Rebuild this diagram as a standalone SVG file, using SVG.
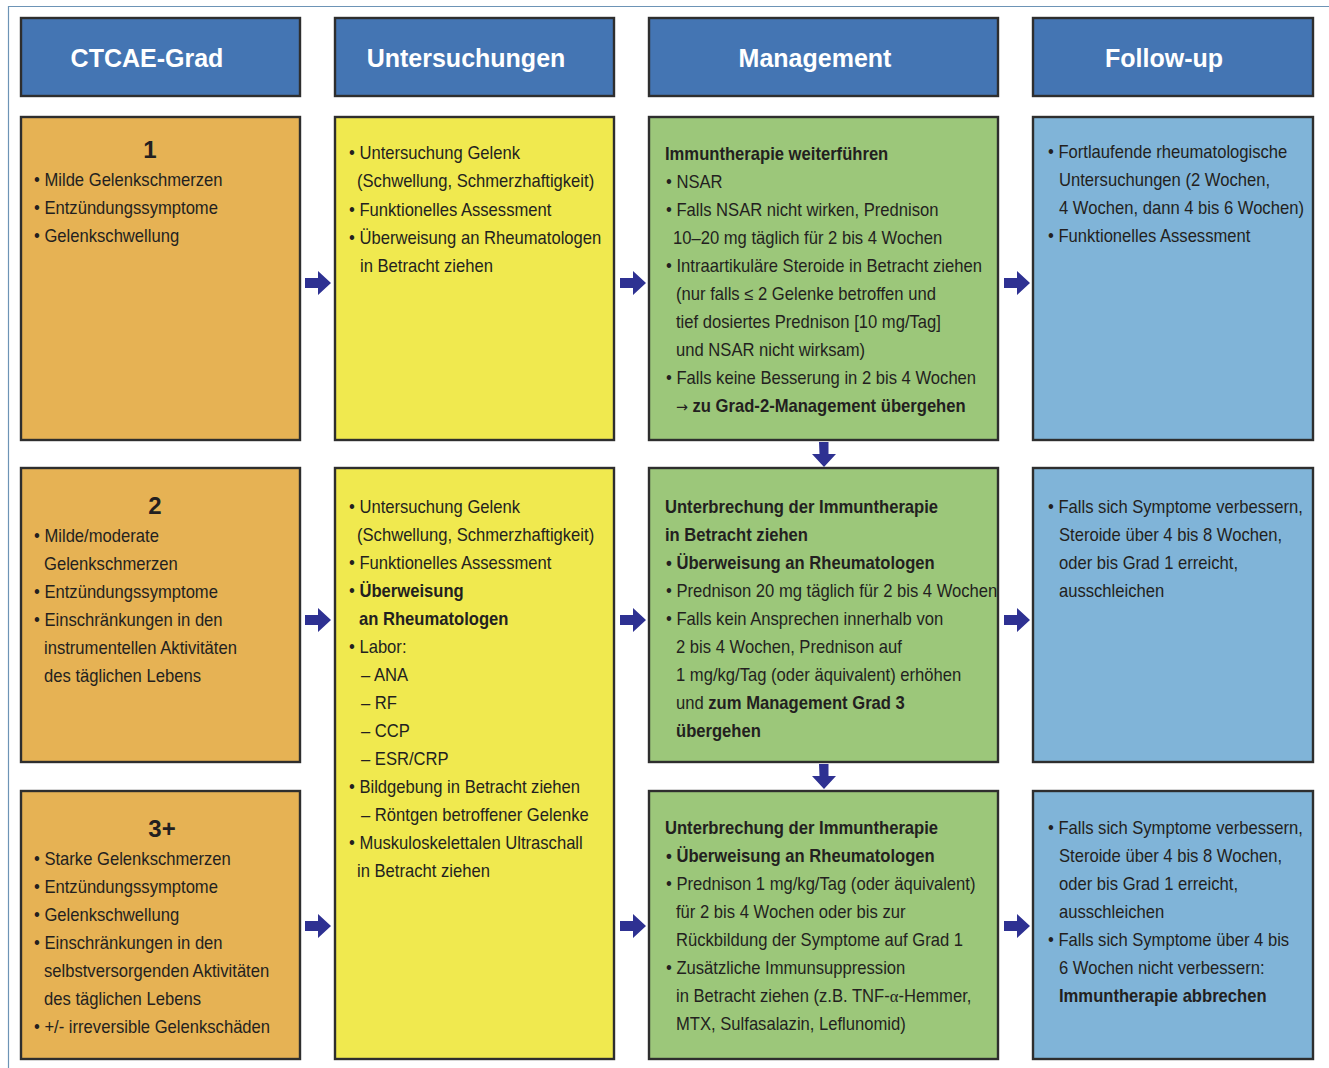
<svg xmlns="http://www.w3.org/2000/svg" width="1329" height="1068" viewBox="0 0 1329 1068">
  <style>
    .frame { stroke: #6d94b6; stroke-width: 1.2; fill: none; }
    .box { stroke: #2e2e2e; stroke-width: 2.4; }
    .hdr { fill: #4475b3; }
    .or { fill: #e6b254; }
    .ye { fill: #f0e94f; }
    .gr { fill: #9cc77a; }
    .bl { fill: #80b4d8; }
    text { font-family: "Liberation Sans", Arial, sans-serif; font-size: 17.5px; fill: #231f20;
           transform-box: fill-box; transform-origin: 0 50%; transform: scaleX(0.95); }
    .h { font-weight: bold; font-size: 25px; fill: #ffffff; text-anchor: middle; transform: none; }
    .b { font-weight: bold; }
    .g { font-weight: bold; font-size: 24px; text-anchor: middle; transform: none; }
    .sym { font-family: "DejaVu Sans", sans-serif; font-size: 15px; }
    .arr { fill: #2e3192; }
  </style>
  <defs>
    <path id="ar" d="M0,-5 H13 V-12 L26,0 L13,12 V5 H0 Z"/>
    <path id="ad" d="M-5,0 H4.5 V12 H12 L0,25 L-12,12 H-4.5 Z"/>
  </defs>

  <!-- outer frame lines -->
  <path class="frame" d="M8.5,1068 V6.5 H1329"/>

  <!-- column headers -->
  <g id="hdr-grad"><rect class="box hdr" x="21" y="18" width="279" height="78"/><text class="h" x="147" y="67">CTCAE-Grad</text></g>
  <g id="hdr-unters"><rect class="box hdr" x="335" y="18" width="279" height="78"/><text class="h" x="466" y="67">Untersuchungen</text></g>
  <g id="hdr-mgmt"><rect class="box hdr" x="649" y="18" width="349" height="78"/><text class="h" x="815" y="67">Management</text></g>
  <g id="hdr-follow"><rect class="box hdr" x="1033" y="18" width="280" height="78"/><text class="h" x="1164" y="67">Follow-up</text></g>

  <!-- grade 1 -->
  <g id="grad1">
    <rect class="box or" x="21" y="117" width="279" height="323"/>
    <text class="g" x="150" y="158">1</text>
    <text x="34" y="186">• Milde Gelenkschmerzen</text>
    <text x="34" y="214">• Entzündungssymptome</text>
    <text x="34" y="242">• Gelenkschwellung</text>
  </g>
  <g id="unters1">
    <rect class="box ye" x="335" y="117" width="279" height="323"/>
    <text x="349" y="159">• Untersuchung Gelenk</text>
    <text x="357" y="187">(Schwellung, Schmerzhaftigkeit)</text>
    <text x="349" y="216">• Funktionelles Assessment</text>
    <text x="349" y="244">• Überweisung an Rheumatologen</text>
    <text x="360" y="272">in Betracht ziehen</text>
  </g>
  <g id="mgmt1">
    <rect class="box gr" x="649" y="117" width="349" height="323"/>
    <text class="b" x="665" y="160">Immuntherapie weiterführen</text>
    <text x="666" y="188">• NSAR</text>
    <text x="666" y="216">• Falls NSAR nicht wirken, Prednison</text>
    <text x="673" y="244">10–20 mg täglich für 2 bis 4 Wochen</text>
    <text x="666" y="272">• Intraartikuläre Steroide in Betracht ziehen</text>
    <text x="676" y="300">(nur falls ≤ 2 Gelenke betroffen und</text>
    <text x="676" y="328">tief dosiertes Prednison [10 mg/Tag]</text>
    <text x="676" y="356">und NSAR nicht wirksam)</text>
    <text x="666" y="384">• Falls keine Besserung in 2 bis 4 Wochen</text>
    <text x="676" y="412"><tspan class="sym">→</tspan> <tspan class="b">zu Grad-2-Management übergehen</tspan></text>
  </g>
  <g id="follow1">
    <rect class="box bl" x="1033" y="117" width="280" height="323"/>
    <text x="1048" y="158">• Fortlaufende rheumatologische</text>
    <text x="1059" y="186">Untersuchungen (2 Wochen,</text>
    <text x="1059" y="214">4 Wochen, dann 4 bis 6 Wochen)</text>
    <text x="1048" y="242">• Funktionelles Assessment</text>
  </g>

  <!-- grade 2 -->
  <g id="grad2">
    <rect class="box or" x="21" y="468" width="279" height="294"/>
    <text class="g" x="155" y="514">2</text>
    <text x="34" y="542">• Milde/moderate</text>
    <text x="44" y="570">Gelenkschmerzen</text>
    <text x="34" y="598">• Entzündungssymptome</text>
    <text x="34" y="626">• Einschränkungen in den</text>
    <text x="44" y="654">instrumentellen Aktivitäten</text>
    <text x="44" y="682">des täglichen Lebens</text>
  </g>
  <g id="unters23">
    <rect class="box ye" x="335" y="468" width="279" height="591"/>
    <text x="349" y="513">• Untersuchung Gelenk</text>
    <text x="357" y="541">(Schwellung, Schmerzhaftigkeit)</text>
    <text x="349" y="569">• Funktionelles Assessment</text>
    <text x="349" y="597">• <tspan class="b">Überweisung</tspan></text>
    <text class="b" x="359" y="625">an Rheumatologen</text>
    <text x="349" y="653">• Labor:</text>
    <text x="361" y="681">– ANA</text>
    <text x="361" y="709">– RF</text>
    <text x="361" y="737">– CCP</text>
    <text x="361" y="765">– ESR/CRP</text>
    <text x="349" y="793">• Bildgebung in Betracht ziehen</text>
    <text x="361" y="821">– Röntgen betroffener Gelenke</text>
    <text x="349" y="849">• Muskuloskelettalen Ultraschall</text>
    <text x="357" y="877">in Betracht ziehen</text>
  </g>
  <g id="mgmt2">
    <rect class="box gr" x="649" y="468" width="349" height="294"/>
    <text class="b" x="665" y="513">Unterbrechung der Immuntherapie</text>
    <text class="b" x="665" y="541">in Betracht ziehen</text>
    <text class="b" x="666" y="569">• Überweisung an Rheumatologen</text>
    <text x="666" y="597">• Prednison 20 mg täglich für 2 bis 4 Wochen</text>
    <text x="666" y="625">• Falls kein Ansprechen innerhalb von</text>
    <text x="676" y="653">2 bis 4 Wochen, Prednison auf</text>
    <text x="676" y="681">1 mg/kg/Tag (oder äquivalent) erhöhen</text>
    <text x="676" y="709">und <tspan class="b">zum Management Grad 3</tspan></text>
    <text class="b" x="676" y="737">übergehen</text>
  </g>
  <g id="follow2">
    <rect class="box bl" x="1033" y="468" width="280" height="294"/>
    <text x="1048" y="513">• Falls sich Symptome verbessern,</text>
    <text x="1059" y="541">Steroide über 4 bis 8 Wochen,</text>
    <text x="1059" y="569">oder bis Grad 1 erreicht,</text>
    <text x="1059" y="597">ausschleichen</text>
  </g>

  <!-- grade 3+ -->
  <g id="grad3">
    <rect class="box or" x="21" y="791" width="279" height="268"/>
    <text class="g" x="162" y="837">3+</text>
    <text x="34" y="865">• Starke Gelenkschmerzen</text>
    <text x="34" y="893">• Entzündungssymptome</text>
    <text x="34" y="921">• Gelenkschwellung</text>
    <text x="34" y="949">• Einschränkungen in den</text>
    <text x="44" y="977">selbstversorgenden Aktivitäten</text>
    <text x="44" y="1005">des täglichen Lebens</text>
    <text x="34" y="1033">• +/- irreversible Gelenkschäden</text>
  </g>
  <g id="mgmt3">
    <rect class="box gr" x="649" y="791" width="349" height="268"/>
    <text class="b" x="665" y="834">Unterbrechung der Immuntherapie</text>
    <text class="b" x="666" y="862">• Überweisung an Rheumatologen</text>
    <text x="666" y="890">• Prednison 1 mg/kg/Tag (oder äquivalent)</text>
    <text x="676" y="918">für 2 bis 4 Wochen oder bis zur</text>
    <text x="676" y="946">Rückbildung der Symptome auf Grad 1</text>
    <text x="666" y="974">• Zusätzliche Immunsuppression</text>
    <text x="676" y="1002">in Betracht ziehen (z.B. TNF-<tspan font-family="Liberation Serif, serif">α</tspan>-Hemmer,</text>
    <text x="676" y="1030">MTX, Sulfasalazin, Leflunomid)</text>
  </g>
  <g id="follow3">
    <rect class="box bl" x="1033" y="791" width="280" height="268"/>
    <text x="1048" y="834">• Falls sich Symptome verbessern,</text>
    <text x="1059" y="862">Steroide über 4 bis 8 Wochen,</text>
    <text x="1059" y="890">oder bis Grad 1 erreicht,</text>
    <text x="1059" y="918">ausschleichen</text>
    <text x="1048" y="946">• Falls sich Symptome über 4 bis</text>
    <text x="1059" y="974">6 Wochen nicht verbessern:</text>
    <text class="b" x="1059" y="1002">Immuntherapie abbrechen</text>
  </g>

  <!-- connectors -->
  <g id="connectors" class="arr">
    <use href="#ar" x="305" y="283"/>
    <use href="#ar" x="620" y="283"/>
    <use href="#ar" x="1004" y="283"/>
    <use href="#ar" x="305" y="620"/>
    <use href="#ar" x="620" y="620"/>
    <use href="#ar" x="1004" y="620"/>
    <use href="#ar" x="305" y="926"/>
    <use href="#ar" x="620" y="926"/>
    <use href="#ar" x="1004" y="926"/>
    <use href="#ad" x="824" y="442"/>
    <use href="#ad" x="824" y="764"/>
  </g>
</svg>
